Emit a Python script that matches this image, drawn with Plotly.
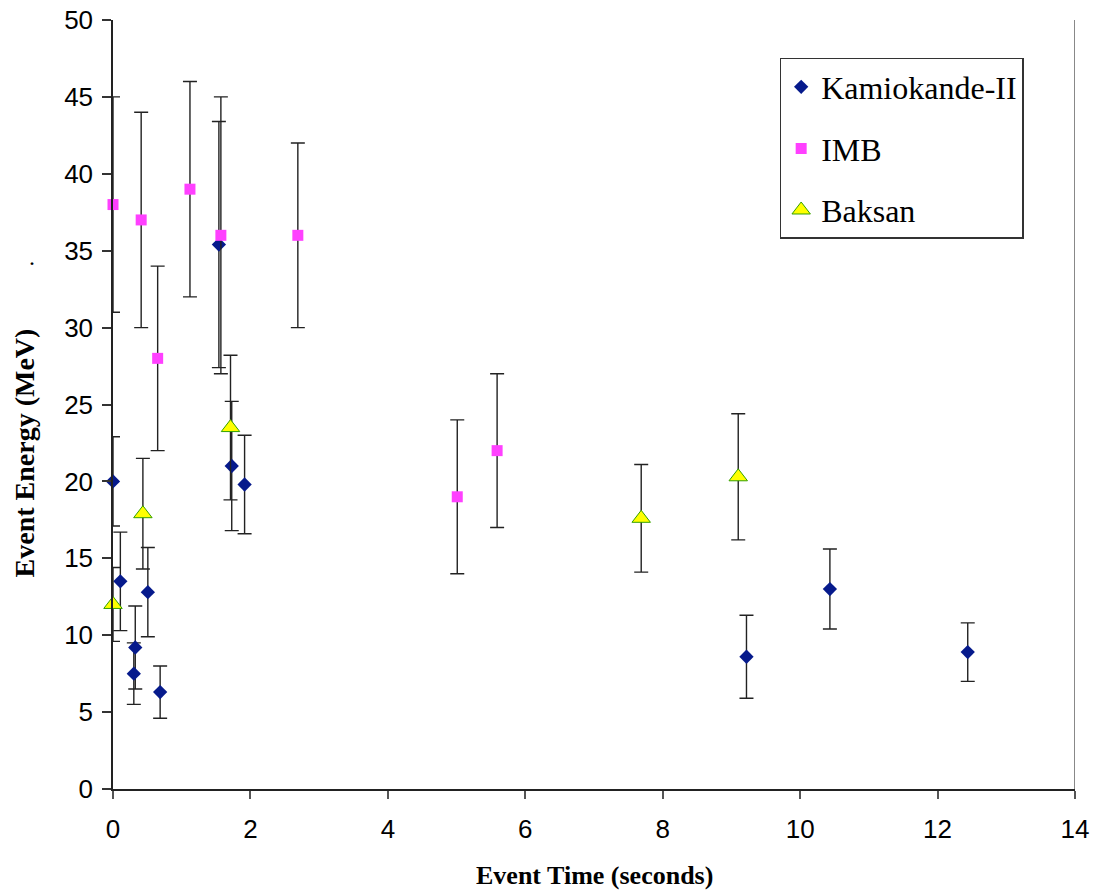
import plotly.graph_objects as go

# Kamiokande-II
kam_t = [0.000, 0.107, 0.303, 0.324, 0.507, 0.686, 1.541, 1.728, 1.915, 9.219, 10.433, 12.439]
kam_e = [20.0, 13.5, 7.5, 9.2, 12.8, 6.3, 35.4, 21.0, 19.8, 8.6, 13.0, 8.9]
kam_err = [2.9, 3.2, 2.0, 2.7, 2.9, 1.7, 8.0, 4.2, 3.2, 2.7, 2.6, 1.9]

# IMB
imb_t = [0.00, 0.41, 0.65, 1.12, 1.57, 2.69, 5.01, 5.59]
imb_e = [38.0, 37.0, 28.0, 39.0, 36.0, 36.0, 19.0, 22.0]
imb_err = [7.0, 7.0, 6.0, 7.0, 9.0, 6.0, 5.0, 5.0]

# Baksan
bak_t = [0.000, 0.435, 1.710, 7.687, 9.099]
bak_e = [12.0, 17.9, 23.5, 17.6, 20.3]
bak_err = [2.4, 3.6, 4.7, 3.5, 4.1]

x_ticks = [0, 2, 4, 6, 8, 10, 12, 14]
y_ticks = [0, 5, 10, 15, 20, 25, 30, 35, 40, 45, 50]

err_style = dict(type="data", visible=True, color="#222222", thickness=1.4, width=7)

fig = go.Figure()
fig.add_trace(go.Scatter(
    x=kam_t, y=kam_e, mode="markers", name="Kamiokande-II", legendgroup="k", cliponaxis=False,
    marker=dict(symbol="diamond", size=11, color="#061A8C", line=dict(width=0)),
    error_y=dict(array=kam_err, **err_style)))
fig.add_trace(go.Scatter(
    x=imb_t, y=imb_e, mode="markers", name="IMB", legendgroup="i", cliponaxis=False,
    marker=dict(symbol="square", size=11, color="#FF40FF", line=dict(width=0)),
    error_y=dict(array=imb_err, **err_style)))
fig.add_trace(go.Scatter(
    x=bak_t, y=bak_e, mode="markers", name="Baksan", legendgroup="b", cliponaxis=False,
    marker=dict(symbol="triangle-up", size=16, color="#FFFF00", line=dict(width=1, color="#33A000")),
    error_y=dict(array=bak_err, **err_style)))

tick_font = dict(family="Liberation Sans, Arial, sans-serif", size=26, color="#000")

fig.update_layout(
    width=1096, height=894,
    margin=dict(l=113, r=21, t=20, b=105, autoexpand=False),
    paper_bgcolor="white", plot_bgcolor="white",
    showlegend=True,
    legend=dict(
        x=0.693, y=0.9506, xanchor="left", yanchor="top",
        bgcolor="white", bordercolor="#333", borderwidth=1.5,
        font=dict(family="Liberation Serif, Times New Roman, serif", size=32, color="#000"),
        tracegroupgap=17,
    ),
    xaxis=dict(
        range=[0, 14], tickvals=x_ticks, ticktext=[str(v) for v in x_ticks],
        showgrid=False, zeroline=False, showline=True, linecolor="#222", linewidth=1.5,
        ticks="outside", ticklen=8, tickcolor="#555", tickwidth=1.5,
        tickfont=tick_font, automargin=False, ticklabelstandoff=8,
    ),
    yaxis=dict(
        range=[0, 50], tickvals=y_ticks, ticktext=[str(v) for v in y_ticks],
        showgrid=False, zeroline=False, showline=True, linecolor="#222", linewidth=1.5,
        ticks="outside", ticklen=9, tickcolor="#333", tickwidth=1.5,
        tickfont=tick_font, automargin=False, ticklabelstandoff=4,
    ),
    yaxis2=dict(
        range=[0, 50], tickvals=y_ticks, overlaying="y", side="left",
        showgrid=False, zeroline=False, showline=False, showticklabels=False,
        ticks="inside", ticklen=9, tickcolor="#333", tickwidth=1.5, automargin=False,
    ),
    shapes=[dict(type="line", xref="x", yref="paper", x0=14, x1=14, y0=0, y1=1,
                 line=dict(color="#888", width=2))],
    annotations=[
        dict(text="<b>Event Time (seconds)</b>", xref="paper", yref="paper",
             x=0.5, y=-0.113, xanchor="center", yanchor="middle", showarrow=False,
             font=dict(family="Liberation Serif, Times New Roman, serif", size=26, color="#000")),
        dict(text="<b>Event Energy (MeV)</b>", xref="paper", yref="paper",
             x=-0.092, y=0.437, xanchor="center", yanchor="middle", showarrow=False, textangle=-90,
             font=dict(family="Liberation Serif, Times New Roman, serif", size=28, color="#000")),
        dict(text=".", xref="paper", yref="paper",
             x=-0.084, y=0.672, xanchor="center", yanchor="bottom", showarrow=False,
             font=dict(family="Liberation Serif, Times New Roman, serif", size=24, color="#000")),
    ],
)

fig.write_html("out.html")
